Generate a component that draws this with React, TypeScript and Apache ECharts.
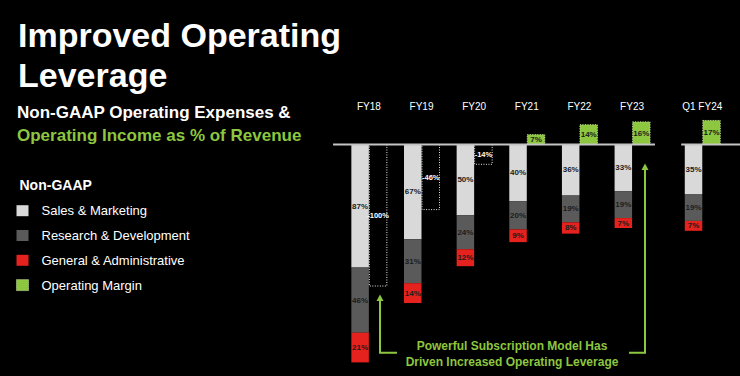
import React, { useEffect, useRef } from 'react';
import * as echarts from 'echarts';

const categories = ['FY18', 'FY19', 'FY20', 'FY21', 'FY22', 'FY23', 'Q1 FY24'];
const salesMarketing = [87, 67, 50, 40, 36, 33, 35];
const researchDevelopment = [46, 31, 24, 20, 19, 19, 19];
const generalAdmin = [21, 14, 12, 9, 8, 7, 7];
const operatingMargin = [-100, -46, -14, 7, 14, 16, 17];

const seriesNames = ['Sales & Marketing', 'Research & Development', 'General & Administrative', 'Operating Margin'];

const FONT = '"Liberation Sans", Arial, Helvetica, sans-serif';
const C_SM = '#d9d9d9';
const C_RD = '#5a5a5a';
const C_GA = '#e5221d';
const C_OM = '#8dc63f';
const LABEL_DARK = '#1c1c1c';

// quarter column sits a little further from the fiscal years
const QUARTER_GAP = 1 / 3;
const xPos = categories.map((_, i) => i + (i === categories.length - 1 ? QUARTER_GAP : 0));

const BAR_W = 17.5;

function expenseData(values: number[], before: number[][]) {
  return values.map((v, i) => {
    const start = -before.reduce((s, arr) => s + arr[i], 0);
    return [xPos[i], start, start - v, v];
  });
}

function labelEl(text: string, x: number, y: number, fill: string, size: number) {
  return {
    type: 'text',
    x,
    y,
    silent: true,
    style: {
      legacy: false,
      text,
      fill,
      stroke: 'none',
      lineWidth: 0,
      font: `bold ${size}px ${FONT}`,
      align: 'center',
      verticalAlign: 'middle',
    },
  };
}

function makeExpenseRender(fill: string) {
  return (params: any, api: any) => {
    const x = api.value(0);
    const a = api.coord([x, api.value(1)]);
    const b = api.coord([x, api.value(2)]);
    const top = Math.min(a[1], b[1]);
    const h = Math.abs(b[1] - a[1]);
    const left = a[0] - BAR_W;
    return {
      type: 'group',
      children: [
        { type: 'rect', shape: { x: left, y: top, width: BAR_W, height: h }, style: { fill, stroke: 'none' } },
        labelEl(api.value(3) + '%', left + BAR_W / 2, top + h / 2, LABEL_DARK, 8),
      ],
    };
  };
}

function marginRender(params: any, api: any) {
  const x = api.value(0);
  const v = api.value(1);
  const a = api.coord([x, 0]);
  const b = api.coord([x, v]);
  const top = Math.min(a[1], b[1]);
  const h = Math.abs(b[1] - a[1]);
  const left = a[0] + 0.5;
  const neg = v < 0;
  return {
    type: 'group',
    children: [
      {
        type: 'rect',
        shape: { x: left, y: top, width: BAR_W, height: h },
        style: neg
          ? { fill: 'none', stroke: '#e6e6e6', lineWidth: 1, lineDash: [1, 1.5] }
          : { fill: C_OM, stroke: '#c9e3a6', lineWidth: 1, lineDash: [1, 1.5] },
      },
      labelEl(v + '%', left + BAR_W / 2, top + h / 2, neg ? '#ffffff' : LABEL_DARK, neg ? 7.5 : 8),
    ],
  };
}

function txt(text: string, x: number, y: number, font: string, fill: string, align = 'left') {
  return {
    type: 'text',
    x,
    y,
    silent: true,
    style: { text, font, fill, align, verticalAlign: 'middle', textAlign: align, textVerticalAlign: 'middle' },
  };
}

export default function App() {
  const ref = useRef<HTMLDivElement>(null);
  useEffect(() => {
    if (!ref.current) return;
    const chart = echarts.init(ref.current, null, { renderer: 'svg' });
    const last = xPos.length - 1;
    const option: any = {
      animation: false,
      backgroundColor: '#000',
      grid: { left: 332, right: 0, top: 87.9, height: 283, outerBoundsMode: 'none' },
      xAxis: {
        type: 'value',
        min: -0.7,
        max: 7.05,
        position: 'top',
        offset: -31.5,
        axisLine: { show: false },
        axisTick: { show: false },
        splitLine: { show: false },
        axisLabel: {
          customValues: xPos,
          color: '#ffffff',
          fontSize: 10,
          fontFamily: FONT,
          margin: 8,
          formatter: (v: number) => {
            const i = xPos.findIndex((p) => Math.abs(p - v) < 1e-6);
            return i >= 0 ? categories[i] : '';
          },
        },
      },
      yAxis: { type: 'value', min: -160, max: 40, show: false },
      legend: {
        orient: 'vertical',
        left: 16,
        top: 203.7,
        padding: 0,
        itemWidth: 12,
        itemHeight: 11,
        itemGap: 10.8,
        icon: 'rect',
        selectedMode: false,
        textStyle: { color: '#ffffff', fontSize: 13, fontFamily: FONT, lineHeight: 14, padding: [0, 0, 0, 8] },
        data: [
          { name: seriesNames[0], itemStyle: { color: C_SM } },
          { name: seriesNames[1], itemStyle: { color: C_RD } },
          { name: seriesNames[2], itemStyle: { color: C_GA } },
          { name: seriesNames[3], itemStyle: { color: C_OM, borderColor: '#c9e3a6', borderWidth: 1, borderType: 'dotted' } },
        ],
      },
      series: [
        {
          type: 'line',
          name: 'zero-a',
          silent: true,
          symbol: 'none',
          lineStyle: { color: '#c4c4c4', width: 2 },
          data: [[xPos[0] - 0.68, 0], [xPos[last - 1] + 0.435, 0]],
        },
        {
          type: 'line',
          name: 'zero-b',
          silent: true,
          symbol: 'none',
          lineStyle: { color: '#c4c4c4', width: 2 },
          data: [[xPos[last] - 0.4, 0], [7.05, 0]],
        },
        {
          type: 'custom',
          name: seriesNames[0],
          itemStyle: { color: C_SM },
          renderItem: makeExpenseRender(C_SM),
          data: expenseData(salesMarketing, []),
        },
        {
          type: 'custom',
          name: seriesNames[1],
          itemStyle: { color: C_RD },
          renderItem: makeExpenseRender(C_RD),
          data: expenseData(researchDevelopment, [salesMarketing]),
        },
        {
          type: 'custom',
          name: seriesNames[2],
          itemStyle: { color: C_GA },
          renderItem: makeExpenseRender(C_GA),
          data: expenseData(generalAdmin, [salesMarketing, researchDevelopment]),
        },
        {
          type: 'custom',
          name: seriesNames[3],
          itemStyle: { color: C_OM },
          renderItem: marginRender,
          data: operatingMargin.map((v, i) => [xPos[i], v]),
        },
      ],
      graphic: [
        txt('Improved Operating', 18, 35.2, `bold 34px ${FONT}`, '#ffffff'),
        txt('Leverage', 18, 74.7, `bold 34px ${FONT}`, '#ffffff'),
        txt('Non-GAAP Operating Expenses &', 17, 112.7, `bold 17px ${FONT}`, '#ffffff'),
        txt('Operating Income as % of Revenue', 17, 135.3, `bold 17px ${FONT}`, C_OM),
        txt('Non-GAAP', 19.5, 185, `bold 14px ${FONT}`, '#ffffff'),
        {
          type: 'polyline',
          silent: true,
          shape: { points: [[380, 300], [380, 352.7], [397, 352.7]] },
          style: { stroke: C_OM, lineWidth: 2, fill: 'none' },
        },
        {
          type: 'polygon',
          silent: true,
          shape: { points: [[380, 294.5], [376.5, 301], [383.5, 301]] },
          style: { fill: C_OM },
        },
        {
          type: 'polyline',
          silent: true,
          shape: { points: [[629, 352.7], [645, 352.7], [645, 169]] },
          style: { stroke: C_OM, lineWidth: 2, fill: 'none' },
        },
        {
          type: 'polygon',
          silent: true,
          shape: { points: [[645, 163.5], [641.5, 170], [648.5, 170]] },
          style: { fill: C_OM },
        },
        txt('Powerful Subscription Model Has', 512, 345.7, `bold 12px ${FONT}`, C_OM, 'center'),
        txt('Driven Increased Operating Leverage', 512, 361.7, `bold 12px ${FONT}`, C_OM, 'center'),
      ],
    };
    chart.setOption(option);
    return () => chart.dispose();
  }, []);
  return <div ref={ref} style={{ position: 'fixed', left: 0, top: 0, width: 740, height: 376 }} />;
}
